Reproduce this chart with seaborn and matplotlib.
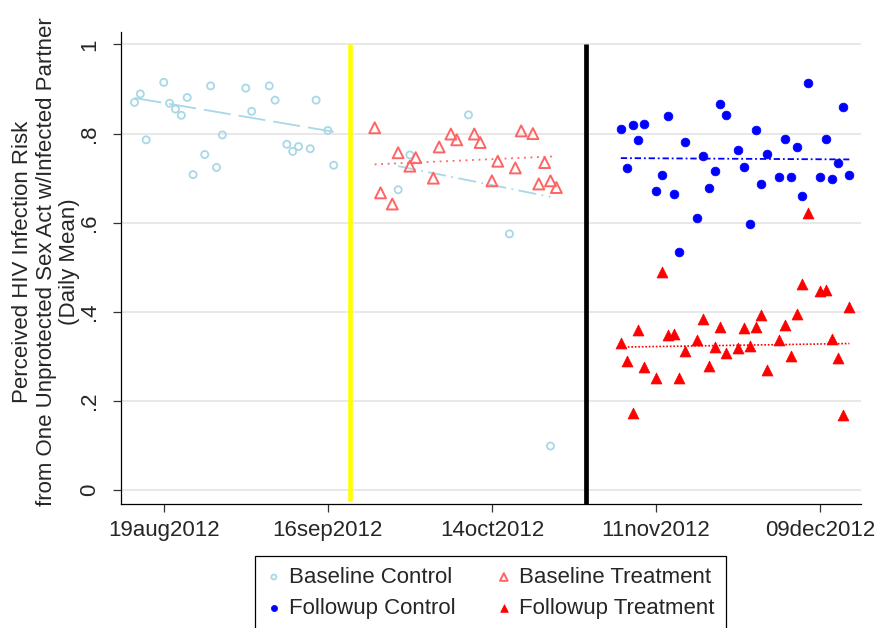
import numpy as np
import pandas as pd
import matplotlib
matplotlib.use("Agg")
import matplotlib.pyplot as plt
import seaborn as sns

# x values are days since 19aug2012
bc_day = [-5, -4, -3, 0, 1, 2, 3, 4, 5, 7, 8, 9, 10, 14, 15, 18, 19, 21, 22, 23, 25, 26, 28, 29,
          40, 42, 52, 59, 66]
bc_val = [0.870, 0.889, 0.786, 0.915, 0.868, 0.855, 0.841, 0.881, 0.708, 0.753, 0.907, 0.724,
          0.797, 0.902, 0.850, 0.907, 0.875, 0.776, 0.760, 0.771, 0.766, 0.875, 0.807, 0.729,
          0.674, 0.752, 0.842, 0.575, 0.099]

bt_day = [36, 37, 39, 40, 42, 43, 46, 47, 49, 50, 53, 54, 56, 57, 60, 61, 63, 64, 65, 66, 67]
bt_val = [0.813, 0.667, 0.642, 0.757, 0.727, 0.746, 0.700, 0.770, 0.799, 0.786, 0.799, 0.780,
          0.694, 0.738, 0.723, 0.806, 0.800, 0.687, 0.735, 0.694, 0.679]

fc_day = [78, 79, 80, 81, 82, 84, 85, 86, 87, 88, 89, 91, 92, 93, 94, 95, 96, 98, 99, 100,
          101, 102, 103, 105, 106, 107, 108, 109, 110, 112, 113, 114, 115, 116, 117]
fc_val = [0.810, 0.722, 0.819, 0.785, 0.821, 0.672, 0.706, 0.840, 0.664, 0.534, 0.782, 0.611,
          0.750, 0.677, 0.717, 0.866, 0.842, 0.764, 0.725, 0.597, 0.808, 0.688, 0.754, 0.703,
          0.787, 0.703, 0.771, 0.659, 0.913, 0.703, 0.787, 0.698, 0.733, 0.860, 0.706]

ft_day = [78, 79, 80, 81, 82, 84, 85, 86, 87, 88, 89, 91, 92, 93, 94, 95, 96, 98, 99, 100,
          101, 102, 103, 105, 106, 107, 108, 109, 110, 112, 113, 114, 115, 116, 117]
ft_val = [0.331, 0.290, 0.172, 0.360, 0.277, 0.252, 0.490, 0.349, 0.351, 0.251, 0.312, 0.336,
          0.385, 0.279, 0.322, 0.367, 0.308, 0.319, 0.363, 0.323, 0.366, 0.393, 0.269, 0.337,
          0.370, 0.300, 0.395, 0.462, 0.621, 0.447, 0.450, 0.339, 0.297, 0.168, 0.411]

# linear-fit lines (endpoints)
fit_bc1_day = [-5, 29]
fit_bc1_val = [0.880, 0.804]
fit_bc2_day = [40, 66]
fit_bc2_val = [0.727, 0.658]
fit_bt_day = [36, 67]
fit_bt_val = [0.731, 0.749]
fit_fc_day = [78, 117]
fit_fc_val = [0.745, 0.742]
fit_ft_day = [78, 117]
fit_ft_val = [0.321, 0.329]

tick_days = [0, 28, 56, 84, 112]
tick_labels = ["19aug2012", "16sep2012", "14oct2012", "11nov2012", "09dec2012"]
ytick_vals = [0, 0.2, 0.4, 0.6, 0.8, 1.0]
ytick_labels = ["0", ".2", ".4", ".6", ".8", "1"]
intervention_day = 31.7
followup_start_day = 72.0

series_names = ["Baseline Control", "Baseline Treatment", "Followup Control", "Followup Treatment"]

sns.set_style("white")
plt.rcParams["font.family"] = ["Liberation Sans", "DejaVu Sans"]

fig = plt.figure(figsize=(8.79, 6.28), dpi=100)
ax = fig.add_axes([0.1377, 0.1975, 0.8415, 0.7516])

c_bc = "#a8d8e6"
c_bt = "#ff6464"
c_fc = "#0000ff"
c_ft = "#ff0000"

ax.set_xlim(-7.29, 118.94)
ax.set_ylim(-0.031, 1.028)
ax.yaxis.grid(True, color="#e8e8e8", lw=1.4)
ax.xaxis.grid(False)
ax.set_axisbelow(True)

ax.vlines(intervention_day, -0.025, 1.0, color="#ffff00", lw=3.3, zorder=1.5)
ax.vlines(followup_start_day, -0.031, 1.0, color="black", lw=3.4, zorder=1.5)

# fit lines
sns.lineplot(x=fit_bc1_day, y=fit_bc1_val, ax=ax, color=c_bc, lw=1.3,
             linestyle=(0, (15, 4.5)), zorder=2)
sns.lineplot(x=fit_bc2_day, y=fit_bc2_val, ax=ax, color=c_bc, lw=1.3,
             linestyle=(0, (10, 3, 1, 3)), zorder=2)
sns.lineplot(x=fit_bt_day, y=fit_bt_val, ax=ax, color=c_bt, lw=1.3,
             linestyle=(0, (1, 2.6)), zorder=2)
sns.lineplot(x=fit_fc_day, y=fit_fc_val, ax=ax, color=c_fc, lw=1.3,
             linestyle=(0, (3.5, 1.6, 1, 1.6)), zorder=2)
sns.lineplot(x=fit_ft_day, y=fit_ft_val, ax=ax, color=c_ft, lw=1.2,
             linestyle=(0, (1, 1.1)), zorder=2)

# points
sns.scatterplot(x=bc_day, y=bc_val, ax=ax, marker="o", s=26, facecolor="none",
                edgecolor=c_bc, linewidth=1.3, label=series_names[0], zorder=3)
sns.scatterplot(x=bt_day, y=bt_val, ax=ax, marker="^", s=62, facecolor="none",
                edgecolor=c_bt, linewidth=1.4, label=series_names[1], zorder=3)
sns.scatterplot(x=fc_day, y=fc_val, ax=ax, marker="o", s=40, color=c_fc,
                edgecolor=c_fc, linewidth=0.5, label=series_names[2], zorder=3)
sns.scatterplot(x=ft_day, y=ft_val, ax=ax, marker="^", s=62, color=c_ft,
                edgecolor=c_ft, linewidth=0.5, label=series_names[3], zorder=3)
if ax.get_legend() is not None:
    ax.get_legend().remove()

for side in ["top", "right"]:
    ax.spines[side].set_visible(False)
for side in ["left", "bottom"]:
    ax.spines[side].set_color("black")
    ax.spines[side].set_linewidth(0.9)

ax.set_xticks(tick_days)
ax.set_xticklabels(tick_labels)
ax.set_yticks(ytick_vals)
ax.set_yticklabels(ytick_labels, rotation=90, va="center")
ax.tick_params(axis="x", length=6, width=0.9, color="#333333", labelsize=16, pad=5.5,
               direction="out", bottom=True)
ax.tick_params(axis="y", length=6, width=0.9, color="#333333", labelsize=16, pad=9,
               direction="out", left=True)

ax.set_ylabel("Perceived HIV Infection Risk\nfrom One Unprotected Sex Act w/Infected Partner\n(Daily Mean)",
              fontsize=16, ha="center", va="center", multialignment="center", linespacing=1.13)
ax.yaxis.set_label_coords(-0.1014, 0.513)

handles, labels = ax.get_legend_handles_labels()
lookup = dict(zip(labels, handles))
order = ["Baseline Control", "Followup Control", "Baseline Treatment", "Followup Treatment"]
leg = fig.legend([lookup[k] for k in order], order,
                 loc="upper center", bbox_to_anchor=(0.558, 0.1151), ncol=2,
                 fontsize=16, frameon=True, fancybox=False, edgecolor="black",
                 framealpha=1, markerscale=0.7, handlelength=0.7, handletextpad=0.35,
                 columnspacing=1.8, labelspacing=0.45, borderpad=0.5, borderaxespad=0)
leg.get_frame().set_linewidth(0.9)

fig.savefig("out.png", dpi=100)
